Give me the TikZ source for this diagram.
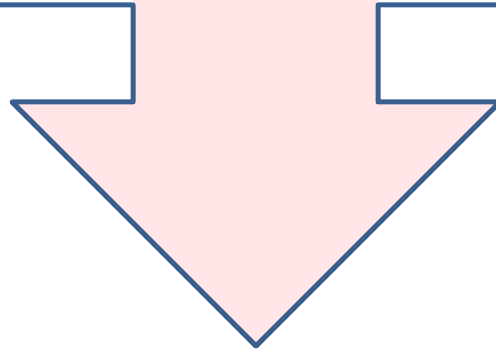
\documentclass[tikz,border=0pt]{standalone}
\usepackage{tikz}
\usetikzlibrary{calc}
\definecolor{arrowline}{HTML}{3A5F8F}
\definecolor{arrowfill}{HTML}{FFE5E5}

\begin{document}
\begin{tikzpicture}[x=1pt,y=-1pt,
 outline/.style={draw=arrowline,line width=5pt,line join=round,line cap=round}]
\useasboundingbox (0,0) rectangle (496,352);
\clip (0,0) rectangle (496,352);
\coordinate (tl) at (0,5);
\coordinate (sl) at (133,5);
\coordinate (nl) at (133,102);
\coordinate (hl) at (12,102);
\coordinate (tip) at (256,346);
\coordinate (hr) at (500,102);
\coordinate (nr) at (378,102);
\coordinate (sr) at (378,5);
\coordinate (tr) at (500,5);
% pink body of the arrow
\fill[arrowfill] (133,-5)--(nl)--(hl)--(tip)--(hr)--(nr)--(378,-5)--cycle;
% blue outline
\draw[outline] (tl)--(sl)--(nl)--(hl)--(tip)--(hr)--(nr)--(sr)--(tr);
\end{tikzpicture}
\end{document}
